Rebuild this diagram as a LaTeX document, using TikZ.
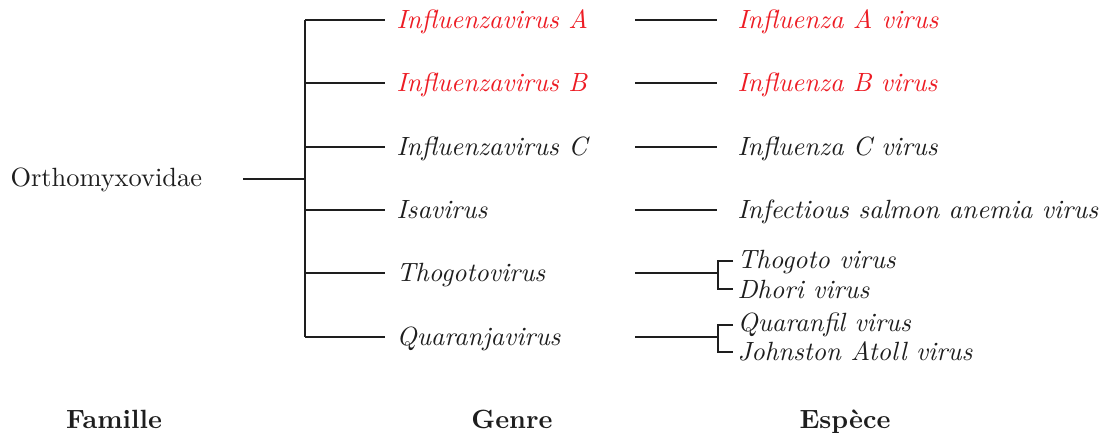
\documentclass[tikz,border=0pt]{standalone}
\usepackage{xcolor}
\definecolor{hired}{RGB}{237,28,36}
\definecolor{ink}{RGB}{30,30,30}
\newcommand{\fsz}{\fontsize{10.15pt}{12pt}\selectfont}
\begin{document}
\begin{tikzpicture}[x=0.3846pt,y=-0.3846pt,
  link/.style={draw=ink,line width=0.75pt},
  genus/.style={anchor=base west,inner sep=0pt,font=\fsz\itshape,text=ink},
  species/.style={anchor=base west,inner sep=0pt,font=\fsz\itshape,text=ink},
  hl/.style={text=hired},
  rank/.style={anchor=base,inner sep=0pt,font=\fsz\bfseries,text=ink}]
\useasboundingbox (0,0) rectangle (1104,432);
% root
\node[anchor=base west,inner sep=0pt,text=ink,font=\fsz] (fam) at (10,186) {Orthomyxovidae};
\coordinate (r0) at (243,179);
\coordinate (r1) at (305,179);
\coordinate (vt) at (305,20);
\coordinate (vb) at (305,337);
\draw[link] (r0) -- (r1);
\draw[link] (vt) -- (vb);
% genera
\foreach \i/\y/\g/\s/\st in {a/20/Influenzavirus A/Influenza A virus/hl,
                             b/83/Influenzavirus B/Influenza B virus/hl,
                             c/147/Influenzavirus C/Influenza C virus/,
                             d/210/Isavirus/Infectious salmon anemia virus/}{
  \coordinate (g\i) at (305,\y);
  \coordinate (ge\i) at (385,\y);
  \node[genus,\st] (gn\i) at (396,\y+8) {\g};
  \coordinate (s\i) at (635,\y);
  \coordinate (se\i) at (717,\y);
  \node[species,\st] (sn\i) at (737,\y+8) {\s};
  \draw[link] (g\i) -- (ge\i);
  \draw[link] (s\i) -- (se\i);
}
% Thogotovirus
\coordinate (ge) at (305,273);
\coordinate (gee) at (385,273);
\node[genus] (gne) at (396,281) {Thogotovirus};
\coordinate (se) at (635,273);
\coordinate (sj) at (718,273);
\coordinate (st1) at (733,261);
\coordinate (st2) at (733,289);
\node[species] (sn1) at (737,268) {Thogoto virus};
\node[species] (sn2) at (737,298) {Dhori virus};
\draw[link] (ge) -- (gee);
\draw[link] (se) -- (sj);
\draw[link] (st1) -- (718,261) -- (718,289) -- (st2);
% Quaranjavirus
\coordinate (gf) at (305,337);
\coordinate (gfe) at (385,337);
\node[genus] (gnf) at (396,345) {Quaranjavirus};
\coordinate (sf) at (635,337);
\coordinate (sk) at (718,337);
\coordinate (sq1) at (733,325);
\coordinate (sq2) at (733,352);
\node[species] (sn3) at (737,331) {Quaranfil virus};
\node[species] (sn4) at (737,360) {Johnston Atoll virus};
\draw[link] (gf) -- (gfe);
\draw[link] (sf) -- (sk);
\draw[link] (sq1) -- (718,325) -- (718,352) -- (sq2);
% ranks
\node[rank] (rk1) at (114,428) {Famille};
\node[rank] (rk2) at (512,428) {Genre};
\node[rank] (rk3) at (845,428) {Espèce};
\end{tikzpicture}
\end{document}
